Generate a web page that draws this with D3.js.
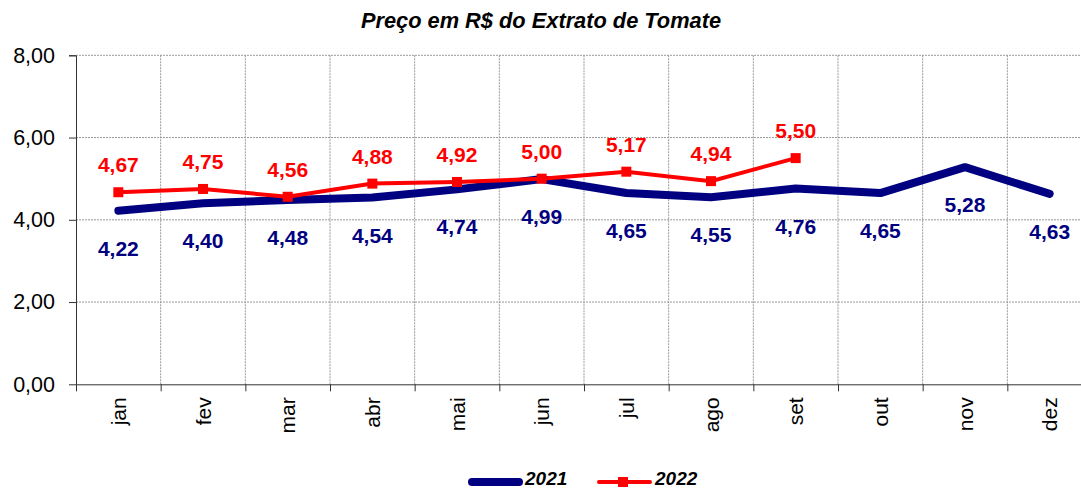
<!DOCTYPE html>
<html>
<head>
<meta charset="utf-8">
<script src="https://cdn.jsdelivr.net/npm/d3@7"></script>
<style>
  body { margin: 0; background: #fff; overflow: hidden; }
  text { font-family: "Liberation Sans", Arial, sans-serif; }
</style>
</head>
<body>
<div id="chart"></div>
<script>
// data
var months = ["jan", "fev", "mar", "abr", "mai", "jun", "jul", "ago", "set", "out", "nov", "dez"];
var values2021 = [4.22, 4.40, 4.48, 4.54, 4.74, 4.99, 4.65, 4.55, 4.76, 4.65, 5.28, 4.63];
var values2022 = [4.67, 4.75, 4.56, 4.88, 4.92, 5.00, 5.17, 4.94, 5.50];
var yTicks = [0, 2, 4, 6, 8];

var svgWidth = 1081;
var svgHeight = 490;

var margin = { top: 55.3, left: 76, right: -11, bottom: 105.7 };
var chartWidth = svgWidth - margin.left - margin.right;
var chartHeight = svgHeight - margin.top - margin.bottom;

var fmt = function(v) { return v.toFixed(2).replace(".", ","); };

var svg = d3.select("#chart")
  .append("svg")
  .attr("width", svgWidth)
  .attr("height", svgHeight);

// title
svg.append("text")
  .attr("x", 541)
  .attr("y", 28)
  .attr("text-anchor", "middle")
  .attr("font-size", "21.8px")
  .attr("font-weight", "bold")
  .attr("font-style", "italic")
  .text("Preço em R$ do Extrato de Tomate");

var chartGroup = svg.append("g")
  .attr("transform", `translate(${margin.left}, ${margin.top})`);

var xBand = d3.scaleBand()
  .domain(months)
  .range([0, chartWidth]);

var yScale = d3.scaleLinear()
  .domain([0, 8])
  .range([chartHeight, 0]);

var xc = d => xBand(d) + xBand.bandwidth() / 2;

// gridlines
chartGroup.selectAll(".hgrid")
  .data(yTicks.filter(d => d > 0))
  .enter()
  .append("line")
  .attr("x1", 0)
  .attr("x2", chartWidth)
  .attr("y1", d => yScale(d))
  .attr("y2", d => yScale(d))
  .attr("stroke", "#999")
  .attr("stroke-width", 1)
  .attr("stroke-dasharray", "2,1");

chartGroup.selectAll(".vgrid")
  .data(months.slice(1))
  .enter()
  .append("line")
  .attr("x1", d => xBand(d))
  .attr("x2", d => xBand(d))
  .attr("y1", 0)
  .attr("y2", chartHeight)
  .attr("stroke", "#999")
  .attr("stroke-width", 1)
  .attr("stroke-dasharray", "2,1");

// axes
var leftAxis = d3.axisLeft(yScale)
  .tickValues(yTicks)
  .tickSize(7)
  .tickPadding(14)
  .tickFormat(fmt);

var yAxisG = chartGroup.append("g").call(leftAxis);
yAxisG.select(".domain").attr("stroke", "#333").attr("d", `M-7,0.5H0.5V${chartHeight}`);
yAxisG.selectAll("line").attr("stroke", "#333");
yAxisG.selectAll("text")
  .attr("font-size", "21.5px")
  .attr("font-family", "Liberation Sans, Arial, sans-serif")
  .attr("fill", "#000");

var xAxisG = chartGroup.append("g")
  .attr("transform", `translate(0, ${chartHeight})`);
xAxisG.append("line")
  .attr("x1", 0)
  .attr("x2", chartWidth)
  .attr("y1", 0.5)
  .attr("y2", 0.5)
  .attr("stroke", "#333");
xAxisG.selectAll(".xtick")
  .data(months)
  .enter()
  .append("line")
  .attr("x1", d => xBand(d) + 0.5)
  .attr("x2", d => xBand(d) + 0.5)
  .attr("y1", 0)
  .attr("y2", 7)
  .attr("stroke", "#333");
xAxisG.selectAll(".xlabel")
  .data(months)
  .enter()
  .append("text")
  .attr("transform", d => `translate(${xc(d) + 7.5}, 13) rotate(-90)`)
  .attr("text-anchor", "end")
  .attr("font-size", "21px")
  .attr("fill", "#000")
  .text(d => d);

// 2021 line
var line2021 = d3.line()
  .x((d, i) => xc(months[i]))
  .y(d => yScale(d));

chartGroup.append("path")
  .datum(values2021)
  .attr("d", line2021)
  .attr("fill", "none")
  .attr("stroke", "#000080")
  .attr("stroke-width", 8)
  .attr("stroke-linejoin", "round")
  .attr("stroke-linecap", "round");

// 2022 line
chartGroup.append("path")
  .datum(values2022)
  .attr("d", line2021)
  .attr("fill", "none")
  .attr("stroke", "#ff0000")
  .attr("stroke-width", 4);

chartGroup.selectAll(".mark2022")
  .data(values2022)
  .enter()
  .append("rect")
  .attr("x", (d, i) => xc(months[i]) - 5)
  .attr("y", d => yScale(d) - 5)
  .attr("width", 10)
  .attr("height", 10)
  .attr("fill", "#ff0000");

// labels
chartGroup.selectAll(".lab2021")
  .data(values2021)
  .enter()
  .append("text")
  .attr("x", (d, i) => xc(months[i]))
  .attr("y", d => yScale(d) + 45)
  .attr("text-anchor", "middle")
  .attr("font-size", "21px")
  .attr("font-weight", "bold")
  .attr("fill", "#000080")
  .text(fmt);

chartGroup.selectAll(".lab2022")
  .data(values2022)
  .enter()
  .append("text")
  .attr("x", (d, i) => xc(months[i]))
  .attr("y", d => yScale(d) - 20)
  .attr("text-anchor", "middle")
  .attr("font-size", "21px")
  .attr("font-weight", "bold")
  .attr("fill", "#ff0000")
  .text(fmt);

// legend
var legend = svg.append("g");
legend.append("line")
  .attr("x1", 472).attr("x2", 519)
  .attr("y1", 482).attr("y2", 482)
  .attr("stroke", "#000080")
  .attr("stroke-width", 8)
  .attr("stroke-linecap", "round");
legend.append("text")
  .attr("x", 525).attr("y", 485)
  .attr("font-size", "19px")
  .attr("font-weight", "bold")
  .attr("font-style", "italic")
  .text("2021");
legend.append("line")
  .attr("x1", 599).attr("x2", 650)
  .attr("y1", 482).attr("y2", 482)
  .attr("stroke", "#ff0000")
  .attr("stroke-width", 4)
  .attr("stroke-linecap", "round");
legend.append("rect")
  .attr("x", 618).attr("y", 477)
  .attr("width", 10).attr("height", 10)
  .attr("fill", "#ff0000");
legend.append("text")
  .attr("x", 655).attr("y", 485)
  .attr("font-size", "19px")
  .attr("font-weight", "bold")
  .attr("font-style", "italic")
  .text("2022");
</script>
</body>
</html>
